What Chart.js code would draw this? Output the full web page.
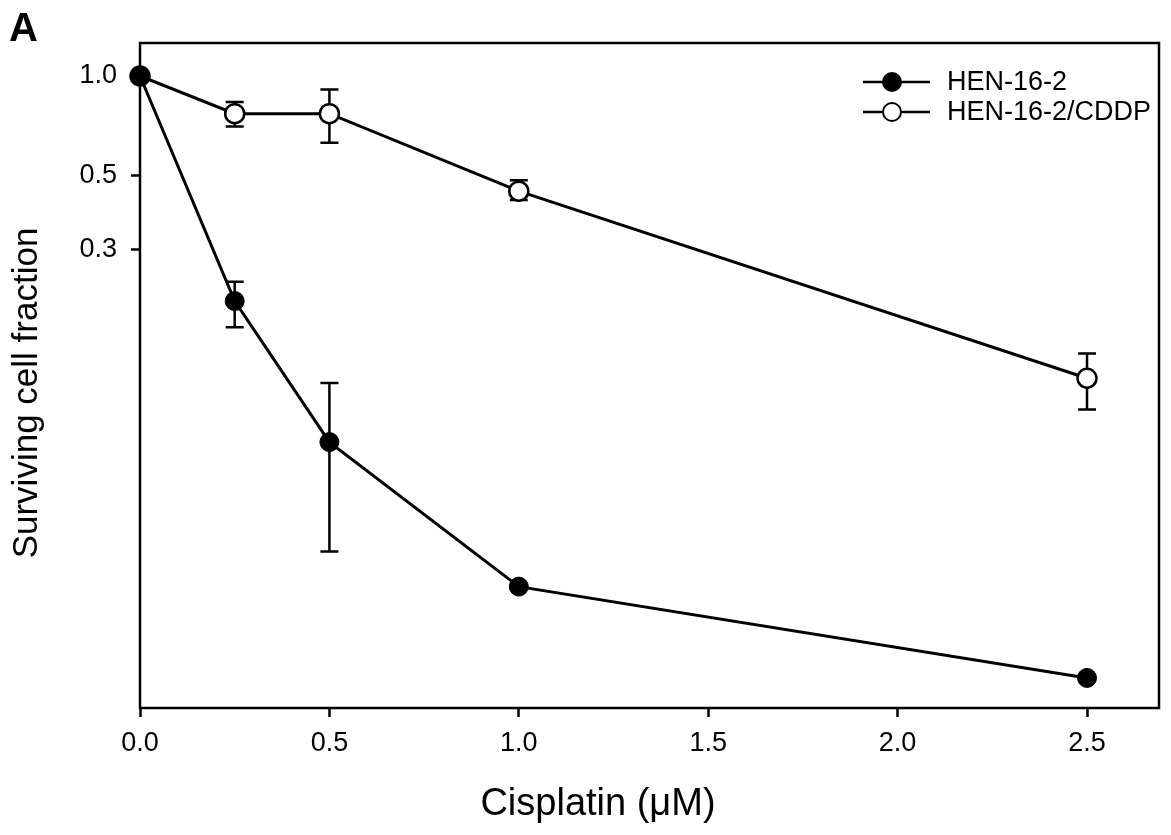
<!DOCTYPE html>
<html>
<head>
<meta charset="utf-8">
<script src="https://cdn.jsdelivr.net/npm/chart.js"></script>
<style>
  body { margin: 0; background: #fff; }
  #wrap { width: 1171px; height: 835px; }
</style>
</head>
<body>
<div id="wrap"><canvas id="chart" width="1171" height="835"></canvas></div>
<script>
// cisplatin dose (uM)
const doses = [0, 0.25, 0.5, 1.0, 2.5];

// HEN-16-2 (filled)
const hen162 = [1.0, 0.21, 0.079, 0.029, 0.0154];
const hen162Hi = [null, 0.24, 0.119, null, null];
const hen162Lo = [null, 0.175, 0.037, null, null];

// HEN-16-2/CDDP (open)
const hen162cddp = [1.0, 0.77, 0.77, 0.45, 0.123];
const hen162cddpHi = [null, 0.835, 0.91, 0.485, 0.146];
const hen162cddpLo = [null, 0.705, 0.63, 0.423, 0.099];

const xTicks = [0, 0.5, 1.0, 1.5, 2.0, 2.5];
const yTicks = [1.0, 0.5, 0.3];

const xTitle = "Cisplatin (\u03bcM)";
const yTitle = "Surviving cell fraction";

const FONT = "'Liberation Sans', Arial, Helvetica, sans-serif";

const toPoints = (ys) => doses.map((x, i) => ({ x: x, y: ys[i] }));

const errorBars = {
  id: "errorBars",
  beforeDatasetsDraw: (chart) => {
    const ctx = chart.ctx;
    const xs = chart.scales.x;
    const ys = chart.scales.y;
    ctx.save();
    ctx.strokeStyle = "#000";
    ctx.lineWidth = 2.5;
    chart.data.datasets.forEach((ds) => {
      ds.data.forEach((p, i) => {
        const hi = ds.errHi[i];
        const lo = ds.errLo[i];
        if (hi == null || lo == null) return;
        const px = xs.getPixelForValue(p.x);
        const top = ys.getPixelForValue(hi);
        const bot = ys.getPixelForValue(lo);
        ctx.beginPath();
        ctx.moveTo(px, top);
        ctx.lineTo(px, bot);
        ctx.moveTo(px - 9, top);
        ctx.lineTo(px + 9, top);
        ctx.moveTo(px - 9, bot);
        ctx.lineTo(px + 9, bot);
        ctx.stroke();
      });
    });
    ctx.restore();
  },
};

const frame = {
  id: "frame",
  afterDraw: (chart) => {
    const ctx = chart.ctx;
    const a = chart.chartArea;
    ctx.save();
    ctx.strokeStyle = "#000";
    ctx.lineWidth = 2.5;
    ctx.strokeRect(a.left, a.top, a.right - a.left, a.bottom - a.top);

    // panel letter
    ctx.fillStyle = "#000";
    ctx.font = "bold 40px " + FONT;
    ctx.textBaseline = "alphabetic";
    ctx.fillText("A", 9, 41);

    // axis titles
    ctx.font = "38px " + FONT;
    ctx.textAlign = "center";
    ctx.textBaseline = "middle";
    ctx.fillText(xTitle, 598, 805);
    ctx.save();
    ctx.translate(27, 393);
    ctx.rotate(-Math.PI / 2);
    ctx.font = "35px " + FONT;
    ctx.fillText(yTitle, 0, 0);
    ctx.restore();

    // legend: line with marker, then label
    ctx.textAlign = "left";
    ctx.font = "27px " + FONT;
    chart.data.datasets.forEach((ds, i) => {
      const y = 82 + i * 30;
      ctx.lineWidth = 2.5;
      ctx.beginPath();
      ctx.moveTo(863, y);
      ctx.lineTo(930, y);
      ctx.stroke();
      ctx.beginPath();
      ctx.arc(892, y, 9, 0, Math.PI * 2);
      ctx.fillStyle = ds.pointBackgroundColor;
      ctx.fill();
      ctx.lineWidth = 2;
      ctx.stroke();
      ctx.fillStyle = "#000";
      ctx.fillText(ds.label, 947, y + 1);
    });
    ctx.restore();
  },
};

const ctx = document.getElementById("chart").getContext("2d");

new Chart(ctx, {
  type: "line",
  data: {
    datasets: [
      {
        label: "HEN-16-2",
        data: toPoints(hen162),
        errHi: hen162Hi,
        errLo: hen162Lo,
        borderColor: "#000",
        borderWidth: 3,
        pointRadius: 9.5,
        pointBorderWidth: 1,
        pointBackgroundColor: "#000",
        pointBorderColor: "#000",
        clip: false,
        tension: 0,
      },
      {
        label: "HEN-16-2/CDDP",
        data: toPoints(hen162cddp),
        errHi: hen162cddpHi,
        errLo: hen162cddpLo,
        borderColor: "#000",
        borderWidth: 3,
        pointRadius: 9.5,
        pointBorderWidth: 2.5,
        pointBackgroundColor: "#fff",
        pointBorderColor: "#000",
        clip: false,
        tension: 0,
      },
    ],
  },
  options: {
    responsive: false,
    animation: false,
    layout: {
      padding: { top: 43, right: 8, left: 0, bottom: 0 },
    },
    plugins: {
      legend: { display: false },
      tooltip: { enabled: false },
    },
    scales: {
      x: {
        type: "linear",
        min: 0,
        max: 2.69,
        afterBuildTicks: (axis) => {
          axis.ticks = xTicks.map((v) => ({ value: v }));
        },
        afterFit: (axis) => {
          axis.height = 127;
        },
        border: { display: false },
        grid: {
          drawOnChartArea: false,
          drawTicks: true,
          tickLength: 9,
          tickWidth: 2.5,
          tickColor: "#000",
        },
        ticks: {
          padding: 10,
          color: "#000",
          maxRotation: 0,
          font: { family: FONT, size: 27 },
          callback: (v) => Number(v).toFixed(1),
        },
        title: { display: false },
      },
      y: {
        type: "logarithmic",
        min: 0.0125,
        max: 1.257,
        afterBuildTicks: (axis) => {
          axis.ticks = yTicks.map((v) => ({ value: v }));
        },
        afterFit: (axis) => {
          axis.width = 140;
        },
        border: { display: false },
        grid: {
          drawOnChartArea: false,
          drawTicks: true,
          tickLength: 9,
          tickWidth: 2.5,
          tickColor: "#000",
        },
        ticks: {
          padding: 14,
          color: "#000",
          font: { family: FONT, size: 27 },
          callback: (v) => Number(v).toFixed(1),
        },
        title: { display: false },
      },
    },
  },
  plugins: [errorBars, frame],
});
</script>
</body>
</html>
